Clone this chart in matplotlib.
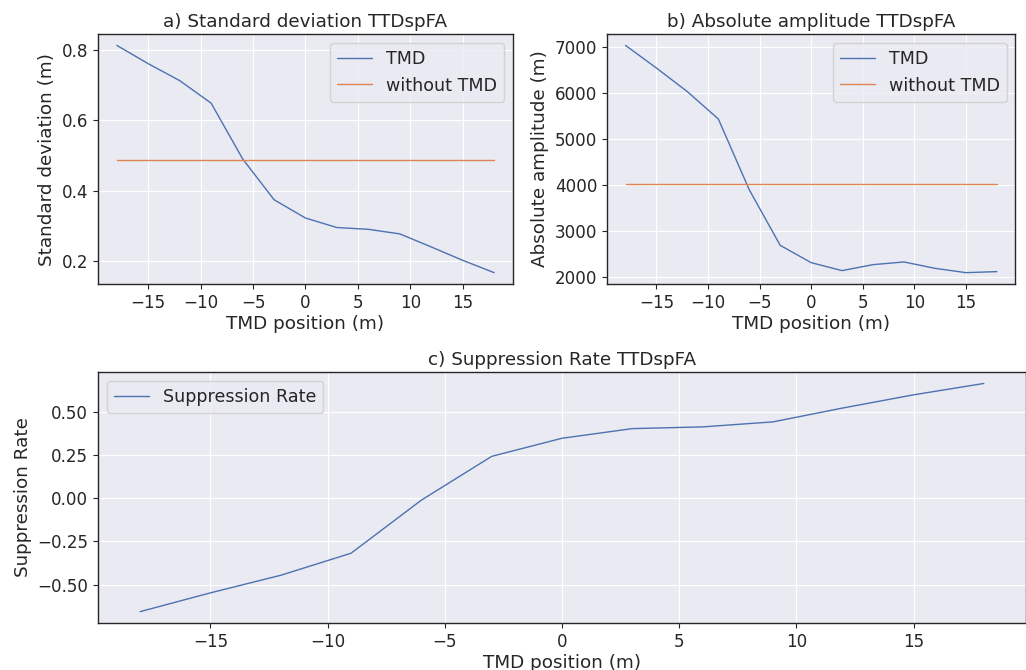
import numpy as np
import matplotlib.pyplot as plt
import seaborn as sns

# TMD positions (m)
positions = [-18, -15, -12, -9, -6, -3, 0, 3, 6, 9, 12, 15, 18]

# a) standard deviation (m)
std_tmd = [0.812, 0.760, 0.712, 0.648, 0.490, 0.374, 0.322, 0.295, 0.290, 0.277, 0.240, 0.202, 0.167]
std_none = 0.488

# b) absolute amplitude (m)
amp_tmd = [7030, 6538, 6025, 5433, 3895, 2690, 2314, 2141, 2271, 2329, 2191, 2097, 2119]
amp_none = 4025

# c) suppression rate
supp_rate = [-0.657, -0.548, -0.446, -0.318, -0.010, 0.244, 0.349, 0.405, 0.415, 0.444, 0.525, 0.601, 0.667]

sns.set_style('darkgrid')
plt.rcParams.update({
    'font.family': 'DejaVu Sans',
    'font.size': 12,
    'axes.titlesize': 13.2,
    'axes.labelsize': 13.2,
    'xtick.labelsize': 12.1,
    'ytick.labelsize': 12.1,
    'legend.fontsize': 12.6,
    'axes.edgecolor': '0.15',
    'axes.linewidth': 1.0,
    'xtick.bottom': True,
    'ytick.left': True,
    'xtick.major.size': 3.5,
    'ytick.major.size': 3.5,
    'xtick.color': '0.15',
    'ytick.color': '0.15',
})

blue = '#4C72B0'
orange = '#DD8452'

fig = plt.figure(figsize=(10.26, 6.7), dpi=100)
ax1 = fig.add_axes([0.0955, 0.5761, 0.4045, 0.3731])
ax2 = fig.add_axes([0.5916, 0.5761, 0.398, 0.3731])
ax3 = fig.add_axes([0.0955, 0.0701, 0.9045, 0.3746])

# a)
ax1.plot(positions, std_tmd, color=blue, lw=1, label='TMD')
ax1.plot(positions, [std_none] * len(positions), color=orange, lw=1, label='without TMD')
ax1.set_title('a) Standard deviation TTDspFA', pad=5)
ax1.set_xlabel('TMD position (m)', labelpad=2)
ax1.set_ylabel('Standard deviation (m)')
ax1.set_yticks([0.2, 0.4, 0.6, 0.8])
ax1.legend(loc='upper right')

# b)
ax2.plot(positions, amp_tmd, color=blue, lw=1, label='TMD')
ax2.plot(positions, [amp_none] * len(positions), color=orange, lw=1, label='without TMD')
ax2.set_title('b) Absolute amplitude TTDspFA', pad=5)
ax2.set_xlabel('TMD position (m)', labelpad=2)
ax2.set_ylabel('Absolute amplitude (m)')
ax2.legend(loc='upper right')

# c)
ax3.plot(positions, supp_rate, color=blue, lw=1, label='Suppression Rate')
ax3.set_title('c) Suppression Rate TTDspFA', pad=5)
ax3.set_xlabel('TMD position (m)', labelpad=2)
ax3.set_ylabel('Suppression Rate')
ax3.legend(loc='upper left')

for ax in (ax1, ax2):
    ax.set_xticks([-15, -10, -5, 0, 5, 10, 15])

fig.savefig('out.png', dpi=100)
